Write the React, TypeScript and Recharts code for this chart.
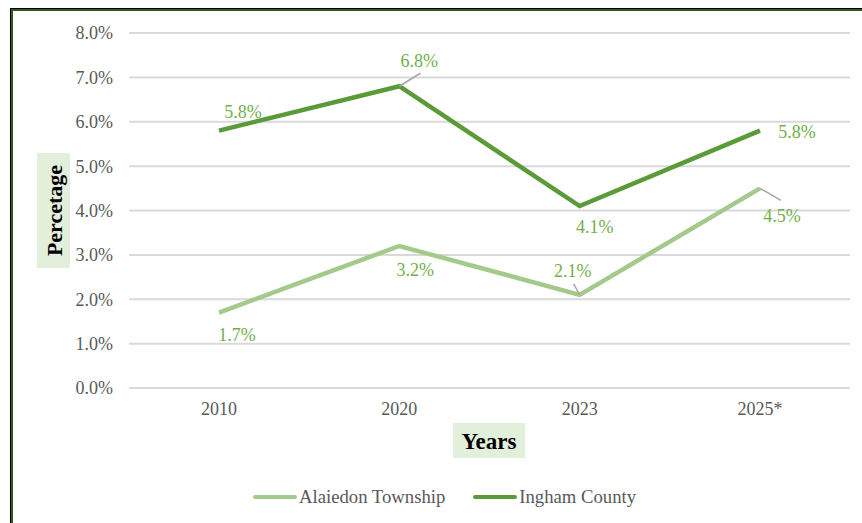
import React from 'react';
import { LineChart, Line, XAxis, YAxis, CartesianGrid, Legend } from 'recharts';

const years = ['2010', '2020', '2023', '2025*'];
const alaiedonValues = [1.7, 3.2, 2.1, 4.5];
const inghamValues = [5.8, 6.8, 4.1, 5.8];
const yTicks = [0, 1, 2, 3, 4, 5, 6, 7, 8];
const seriesNames = ['Alaiedon Township', 'Ingham County'];

const data = years.map((year, i) => ({
  year,
  alaiedon: alaiedonValues[i],
  ingham: inghamValues[i],
}));

const FONT = "'Liberation Serif', 'Times New Roman', serif";
const ALAIEDON_COLOR = '#a3ca8b';
const INGHAM_COLOR = '#5b9a38';
const LABEL_COLOR = '#72b04c';
const TEXT_GRAY = '#595959';

type Pos = { dx: number; dy: number; lx?: number; ly?: number };
const inghamLabelPos: Pos[] = [
  { dx: 24, dy: -19 },
  { dx: 20, dy: -26, lx: 21, ly: -13 },
  { dx: 15, dy: 21 },
  { dx: 37, dy: 1 },
];
const alaiedonLabelPos: Pos[] = [
  { dx: 18, dy: 22 },
  { dx: 16, dy: 24 },
  { dx: -7, dy: -24, lx: -6, ly: -11 },
  { dx: 22, dy: 27, lx: 21, ly: 12 },
];

const makeLabel = (positions: Pos[]) => (props: any) => {
  const { x, y, value, index } = props;
  const p = positions[index] || { dx: 0, dy: -15 };
  return (
    <g key={`lbl-${index}`}>
      {p.lx !== undefined && (
        <line x1={x} y1={y} x2={x + p.lx} y2={y + (p.ly || 0)} stroke="#a6a6a6" strokeWidth={1.5} />
      )}
      <text
        x={x + p.dx}
        y={y + p.dy}
        dy="0.35em"
        textAnchor="middle"
        fill={LABEL_COLOR}
        fontSize={18}
        fontFamily={FONT}
      >
        {`${Number(value).toFixed(1)}%`}
      </text>
    </g>
  );
};

const YTitle = () => (
  <g>
    <rect x={37} y={153} width={33} height={115} fill="#e2efda" />
    <text
      x={0}
      y={0}
      transform="translate(54.5,210.5) rotate(-90)"
      dy="0.35em"
      textAnchor="middle"
      fontSize={22}
      fontWeight="bold"
      fontFamily={FONT}
      fill="#000"
    >
      Percetage
    </text>
  </g>
);

const XTitle = () => (
  <g>
    <rect x={453} y={423} width={72} height={35} fill="#e2efda" />
    <text
      x={489}
      y={440.5}
      dy="0.35em"
      textAnchor="middle"
      fontSize={23}
      fontWeight="bold"
      fontFamily={FONT}
      fill="#000"
    >
      Years
    </text>
  </g>
);

const LegendContent = () => {
  const colors = [ALAIEDON_COLOR, INGHAM_COLOR];
  return (
    <div style={{ height: 24, display: 'flex', alignItems: 'center', paddingLeft: 253, fontFamily: FONT, fontSize: 18.7, color: TEXT_GRAY }}>
      {seriesNames.map((name, i) => (
        <div key={name} style={{ display: 'flex', alignItems: 'center', marginRight: 28 }}>
          <div style={{ width: 44, height: 4, borderRadius: 2, background: colors[i], marginRight: 2 }} />
          <span>{name}</span>
        </div>
      ))}
    </div>
  );
};

export default function App() {
  return (
    <div style={{ position: 'absolute', left: 0, top: 0, width: 862, height: 523, overflow: 'hidden', background: '#fff', fontFamily: FONT }}>
      <div style={{ position: 'absolute', left: 10, top: 8, width: 900, height: 600, borderLeft: '1px solid #000', borderTop: '1px solid #000' }}>
        <div style={{ width: '100%', height: '100%', borderLeft: '2px solid #375623', borderTop: '2px solid #375623' }} />
      </div>
      <div style={{ position: 'absolute', left: 0, top: 0 }}>
        <LineChart width={862} height={523} data={data} margin={{ top: 33, right: 12, left: 69, bottom: 81 }}>
          <CartesianGrid vertical={false} stroke="#d9d9d9" strokeWidth={2} />
          <XAxis
            dataKey="year"
            axisLine={false}
            tickLine={false}
            tickSize={0}
            tickMargin={14}
            height={30}
            padding={{ left: 90, right: 90 }}
            tick={{ fill: TEXT_GRAY, fontSize: 18, fontFamily: FONT }}
            label={{ content: () => <XTitle /> }}
          />
          <YAxis
            domain={[0, 8]}
            ticks={yTicks}
            width={60}
            axisLine={false}
            tickLine={false}
            tickSize={0}
            tickMargin={16}
            tickFormatter={(v: number) => `${v.toFixed(1)}%`}
            tick={{ fill: TEXT_GRAY, fontSize: 18, fontFamily: FONT }}
            label={{ content: () => <YTitle /> }}
          />
          <Legend
            verticalAlign="bottom"
            content={() => <LegendContent />}
            wrapperStyle={{ left: 0, bottom: 14, width: 862 }}
          />
          <Line
            type="linear"
            dataKey="alaiedon"
            name={seriesNames[0]}
            stroke={ALAIEDON_COLOR}
            strokeWidth={4.5}
            dot={false}
            isAnimationActive={false}
            label={makeLabel(alaiedonLabelPos)}
          />
          <Line
            type="linear"
            dataKey="ingham"
            name={seriesNames[1]}
            stroke={INGHAM_COLOR}
            strokeWidth={4.5}
            dot={false}
            isAnimationActive={false}
            label={makeLabel(inghamLabelPos)}
          />
        </LineChart>
      </div>
    </div>
  );
}
